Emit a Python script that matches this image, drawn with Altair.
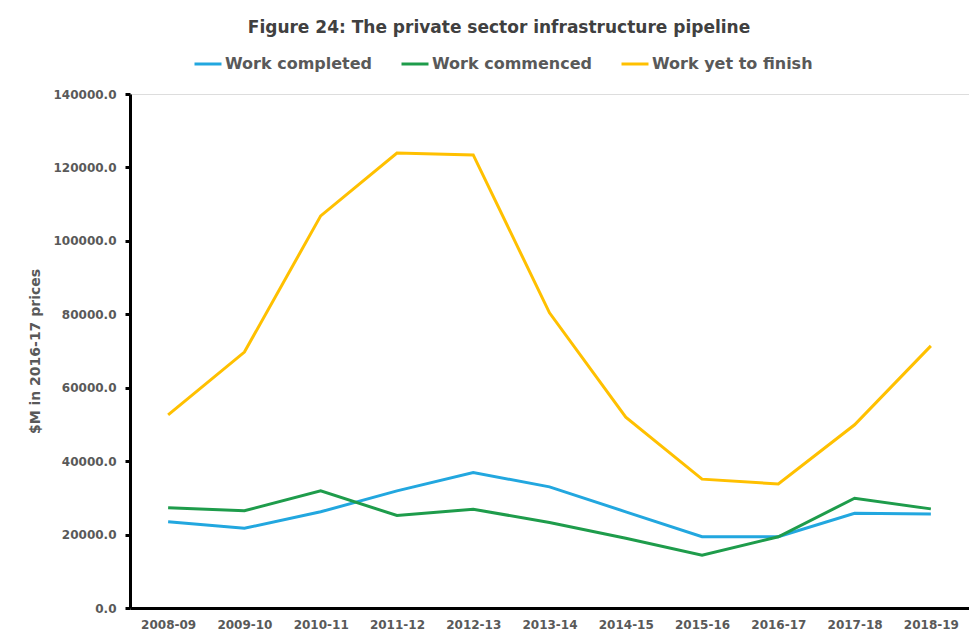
import altair as alt
import pandas as pd

years = ["2008-09", "2009-10", "2010-11", "2011-12", "2012-13", "2013-14",
         "2014-15", "2015-16", "2016-17", "2017-18", "2018-19"]
work_completed = [23500, 21700, 26200, 31900, 36900, 33000, 26200, 19400, 19400, 25800, 25600]
work_commenced = [27300, 26500, 31900, 25200, 26900, 23300, 19000, 14400, 19400, 29900, 27000]
work_yet_to_finish = [52600, 69700, 106800, 123900, 123400, 80400, 52000, 35100, 33800, 49900, 71400]

series = ["Work completed", "Work commenced", "Work yet to finish"]
colors = ["#22a7df", "#1e9c4b", "#ffc000"]

rows = []
for name, vals in zip(series, [work_completed, work_commenced, work_yet_to_finish]):
    for y, v in zip(years, vals):
        rows.append({"year": y, "value": v, "series": name})
df = pd.DataFrame(rows)

FONT = "DejaVu Sans"
GREY = "#595959"

chart = alt.Chart(df).mark_line(strokeWidth=3).encode(
    x=alt.X("year:N", sort=years, title=None,
            scale=alt.Scale(type="point", padding=0.5),
            axis=alt.Axis(labelAngle=0, ticks=False, domainColor="black", domainWidth=3,
                          labelPadding=11, labelFontSize=12, labelFontWeight="bold",
                          labelColor=GREY, labelFont=FONT, grid=False)),
    y=alt.Y("value:Q", title="$M in 2016-17 prices",
            scale=alt.Scale(domain=[0, 140000], nice=False),
            axis=alt.Axis(values=list(range(0, 140001, 20000)), format=".1f",
                          domainColor="black", domainWidth=3, tickColor="black",
                          tickWidth=3, tickSize=5, labelPadding=9,
                          labelFontSize=12, labelFontWeight="bold", labelColor=GREY,
                          labelFont=FONT, titleFont=FONT, titleFontSize=14,
                          titleFontWeight="bold", titleColor=GREY, titlePadding=10,
                          grid=False)),
    color=alt.Color("series:N", sort=series,
                    scale=alt.Scale(domain=series, range=colors),
                    legend=alt.Legend(title=None, orient="none", direction="horizontal",
                                      legendX=63, legendY=-45,
                                      symbolType="stroke", symbolSize=729,
                                      symbolStrokeWidth=3, labelFont=FONT,
                                      labelFontSize=16, labelColor=GREY,
                                      labelFontWeight="bold", labelOffset=2,
                                      labelLimit=400, columnPadding=22)),
).properties(
    width=839,
    height=514,
    title=alt.TitleParams("Figure 24: The private sector infrastructure pipeline",
                          font=FONT, fontSize=17, fontWeight="bold", color="#404040",
                          anchor="middle", frame="bounds", offset=12),
).configure_view(stroke=None).configure(background="white", padding={"left": 20, "top": 11, "right": 0, "bottom": 5})

chart.save("out.html", embed_options={"renderer": "svg", "actions": False})
